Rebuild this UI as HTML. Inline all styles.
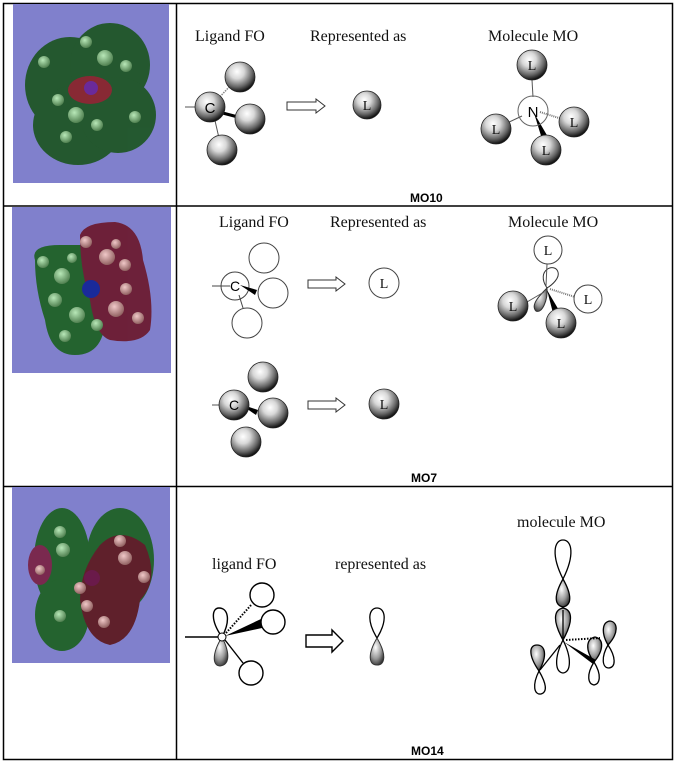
<!DOCTYPE html>
<html><head><meta charset="utf-8"><style>
html,body{margin:0;padding:0;background:#fff;}
svg{display:block;}
.t{font-family:"Liberation Serif",serif;font-size:16px;fill:#111;}
.L{font-family:"Liberation Serif",serif;font-size:14px;fill:#111;text-anchor:middle;}
.m{font-family:"Liberation Sans",sans-serif;font-size:12px;font-weight:bold;fill:#000;}
</style></head><body>
<svg width="677" height="764" viewBox="0 0 677 764" xmlns="http://www.w3.org/2000/svg">
<defs>
<radialGradient id="sp" cx="0.4" cy="0.32" r="0.68">
<stop offset="0" stop-color="#ffffff"/><stop offset="0.35" stop-color="#d8d8d8"/><stop offset="0.75" stop-color="#666"/><stop offset="1" stop-color="#111"/>
</radialGradient>
<radialGradient id="lb" cx="0.4" cy="0.35" r="0.7">
<stop offset="0" stop-color="#fff"/><stop offset="0.6" stop-color="#999"/><stop offset="1" stop-color="#333"/>
</radialGradient>
<radialGradient id="gb" cx="0.4" cy="0.35" r="0.7">
<stop offset="0" stop-color="#b8e8b8"/><stop offset="1" stop-color="#4a7a4a"/>
</radialGradient>
<radialGradient id="rb" cx="0.4" cy="0.35" r="0.7">
<stop offset="0" stop-color="#f0c8c8"/><stop offset="1" stop-color="#8a5a5a"/>
</radialGradient>
</defs>
<rect x="0" y="0" width="677" height="764" fill="#fff"/>
<g stroke="#000" stroke-width="1.5" fill="none">
<rect x="3.5" y="3.5" width="669" height="756"/>
<line x1="176.5" y1="3" x2="176.5" y2="760"/>
<line x1="3" y1="206" x2="673" y2="206"/>
<line x1="3" y1="486.5" x2="673" y2="486.5"/>
</g>

<rect x="13" y="4" width="156" height="179" fill="#8080cc"/>
<g opacity="0.85">
<ellipse cx="70" cy="85" rx="45" ry="48" fill="#145214"/>
<ellipse cx="110" cy="65" rx="40" ry="42" fill="#145214"/>
<ellipse cx="78" cy="125" rx="45" ry="40" fill="#145214"/>
<ellipse cx="118" cy="115" rx="38" ry="38" fill="#145214"/>
<ellipse cx="90" cy="90" rx="22" ry="14" fill="#8a1a1a"/>
</g>
<circle cx="91" cy="88" r="7" fill="#6a2a9a"/>
<g fill="url(#gb)"><circle cx="86" cy="42" r="6"/><circle cx="105" cy="58" r="8"/><circle cx="44" cy="62" r="6"/><circle cx="126" cy="66" r="6"/><circle cx="58" cy="100" r="6"/><circle cx="76" cy="115" r="8"/><circle cx="97" cy="125" r="6"/><circle cx="66" cy="137" r="6"/><circle cx="135" cy="117" r="6"/></g>

<rect x="12" y="207" width="159" height="166" fill="#8080cc"/>
<g opacity="0.85">
<path d="M35 260 Q30 245 60 245 L80 245 Q100 260 105 300 Q110 355 75 355 Q50 355 45 320 Q35 290 35 260Z" fill="#145f14"/>
<path d="M80 235 Q85 222 115 222 Q140 225 143 260 Q155 300 150 330 Q140 345 110 340 Q95 335 90 300 Q80 270 80 235Z" fill="#6a1020"/>
</g>
<circle cx="91" cy="289" r="9" fill="#1a2a9a"/>
<g fill="url(#gb)"><circle cx="43" cy="262" r="6"/><circle cx="62" cy="276" r="8"/><circle cx="55" cy="300" r="7"/><circle cx="77" cy="315" r="8"/><circle cx="97" cy="325" r="6"/><circle cx="65" cy="336" r="6"/><circle cx="72" cy="258" r="5"/></g>
<g fill="url(#rb)"><circle cx="86" cy="242" r="6"/><circle cx="107" cy="257" r="8"/><circle cx="125" cy="265" r="6"/><circle cx="116" cy="244" r="5"/><circle cx="126" cy="289" r="6"/><circle cx="116" cy="309" r="8"/><circle cx="138" cy="318" r="6"/></g>

<rect x="12" y="487" width="158" height="176" fill="#8080cc"/>
<g opacity="0.85">
<ellipse cx="62" cy="560" rx="28" ry="52" fill="#145f14"/>
<ellipse cx="62" cy="615" rx="27" ry="36" fill="#145f14"/>
<ellipse cx="120" cy="560" rx="34" ry="52" fill="#145f14"/>
<ellipse cx="40" cy="565" rx="12" ry="20" fill="#7a1a3a"/>
<path d="M100 545 Q120 525 145 545 Q160 580 140 600 Q135 640 110 645 Q85 640 80 600 Q80 570 100 545Z" fill="#5a1010"/>
</g>
<circle cx="92" cy="578" r="8" fill="#6a1a4a"/>
<g fill="url(#gb)"><circle cx="60" cy="532" r="6"/><circle cx="63" cy="550" r="7"/><circle cx="60" cy="616" r="6"/></g>
<g fill="url(#rb)"><circle cx="120" cy="541" r="6"/><circle cx="125" cy="558" r="7"/><circle cx="144" cy="577" r="6"/><circle cx="80" cy="588" r="6"/><circle cx="87" cy="606" r="6"/><circle cx="104" cy="622" r="6"/><circle cx="40" cy="570" r="5"/></g>

<!-- ROW 1 -->
<text class="t" x="195" y="41">Ligand FO</text>
<text class="t" x="310" y="41">Represented as</text>
<text class="t" x="488" y="41">Molecule MO</text>
<line x1="185" y1="107" x2="205" y2="107" stroke="#555" stroke-width="1"/>
<line x1="213" y1="104" x2="232" y2="84" stroke="#888" stroke-width="1.5" stroke-dasharray="1.5,1"/>
<line x1="215" y1="111" x2="238" y2="117" stroke="#000" stroke-width="3"/>
<line x1="213" y1="112" x2="219" y2="138" stroke="#555" stroke-width="1"/>
<g stroke="#222" stroke-width="0.8">
<circle cx="240" cy="77" r="15" fill="url(#sp)"/>
<circle cx="250" cy="119" r="15" fill="url(#sp)"/>
<circle cx="222" cy="150" r="15" fill="url(#sp)"/>
<circle cx="210" cy="107" r="15" fill="url(#sp)"/>
</g>
<text x="210" y="113" font-family="Liberation Sans,sans-serif" font-size="15" text-anchor="middle">C</text>
<path d="M287 102 H316 V99 L325 106 L316 113 V110 H287Z" fill="#fff" stroke="#333" stroke-width="1"/>
<circle cx="367" cy="105" r="14" fill="url(#sp)" stroke="#222" stroke-width="0.8"/><text class="L" x="367" y="110">L</text>
<line x1="532" y1="80" x2="533" y2="97" stroke="#555"/>
<line x1="507" y1="123" x2="522" y2="116" stroke="#555"/>
<line x1="540" y1="112" x2="562" y2="119" stroke="#777" stroke-width="2" stroke-dasharray="1,1"/>
<path d="M534 113 L548 137 L542 139Z" fill="#000"/>
<circle cx="533" cy="111" r="15" fill="none" stroke="#666"/>
<text x="533" y="117" font-family="Liberation Sans,sans-serif" font-size="15" text-anchor="middle">N</text>
<g stroke="#222" stroke-width="0.8">
<circle cx="532" cy="65" r="15" fill="url(#sp)"/>
<circle cx="496" cy="129" r="15" fill="url(#sp)"/>
<circle cx="574" cy="122" r="15" fill="url(#sp)"/>
<circle cx="546" cy="150" r="15" fill="url(#sp)"/>
</g>
<text class="L" x="532" y="70">L</text><text class="L" x="496" y="134">L</text><text class="L" x="574" y="127">L</text><text class="L" x="546" y="155">L</text>
<text class="m" x="410" y="202">MO10</text>

<!-- ROW 2 -->
<text class="t" x="219" y="227">Ligand FO</text>
<text class="t" x="330" y="227">Represented as</text>
<text class="t" x="508" y="227">Molecule MO</text>
<g fill="none" stroke="#444" stroke-width="1">
<line x1="212" y1="286" x2="230" y2="286"/>
<circle cx="264" cy="258" r="15"/><circle cx="273" cy="293" r="15"/><circle cx="247" cy="323" r="15"/><circle cx="235" cy="286" r="14"/>
<line x1="239" y1="295" x2="243" y2="308"/>
<circle cx="384" cy="283" r="15"/>
</g>
<path d="M240 285 L257 290 L255 295Z" fill="#000"/>
<text x="235" y="291" font-family="Liberation Sans,sans-serif" font-size="14" text-anchor="middle">C</text>
<text class="L" x="384" y="288">L</text>
<path d="M308 280 H336 V277 L345 284 L336 291 V288 H308Z" fill="#fff" stroke="#333"/>
<path d="M547 288 C535 270 555 262 558 272 C560 278 552 285 547 288Z" fill="none" stroke="#333"/>
<path d="M547 288 C540 295 530 305 536 311 C542 314 548 300 547 288Z" fill="url(#lb)" stroke="#333"/>
<line x1="547" y1="264" x2="546" y2="286" stroke="#555"/>
<line x1="527" y1="302" x2="544" y2="292" stroke="#555"/>
<line x1="550" y1="289" x2="575" y2="297" stroke="#777" stroke-width="2" stroke-dasharray="1,1"/>
<path d="M547 290 L560 312 L553 313Z" fill="#000"/>
<circle cx="548" cy="250" r="14" fill="#fff" stroke="#444"/><text class="L" x="548" y="255">L</text>
<circle cx="588" cy="299" r="14" fill="#fff" stroke="#444"/><text class="L" x="588" y="304">L</text>
<circle cx="513" cy="306" r="15" fill="url(#sp)" stroke="#222" stroke-width="0.8"/><text class="L" x="513" y="311">L</text>
<circle cx="561" cy="323" r="15" fill="url(#sp)" stroke="#222" stroke-width="0.8"/><text class="L" x="561" y="328">L</text>
<line x1="212" y1="405" x2="228" y2="405" stroke="#555"/>
<path d="M240 404 L258 410 L256 415Z" fill="#000"/>
<g stroke="#222" stroke-width="0.8">
<circle cx="263" cy="377" r="15" fill="url(#sp)"/>
<circle cx="273" cy="413" r="15" fill="url(#sp)"/>
<circle cx="246" cy="442" r="15" fill="url(#sp)"/>
<circle cx="234" cy="405" r="15" fill="url(#sp)"/>
</g>
<text x="234" y="410" font-family="Liberation Sans,sans-serif" font-size="14" text-anchor="middle">C</text>
<path d="M308 401 H336 V398 L345 405 L336 412 V409 H308Z" fill="#fff" stroke="#333"/>
<circle cx="384" cy="404" r="15" fill="url(#sp)" stroke="#222" stroke-width="0.8"/><text class="L" x="384" y="409">L</text>
<text class="m" x="411" y="482">MO7</text>

<!-- ROW 3 -->
<text class="t" x="212" y="569">ligand FO</text>
<text class="t" x="335" y="569">represented as</text>
<text class="t" x="517" y="527">molecule MO</text>
<g fill="none" stroke="#000" stroke-width="1.4">
<line x1="185" y1="637" x2="219" y2="637"/>
<circle cx="262" cy="595" r="12"/><circle cx="273" cy="622" r="12"/><circle cx="251" cy="673" r="12"/>
<path d="M222 637 C210 620 212 608 219 608 C228 608 231 620 222 637Z"/>
<line x1="225" y1="640" x2="243" y2="663"/>
<line x1="226" y1="633" x2="252" y2="604" stroke-dasharray="1.5,1.5" stroke-width="2"/>
</g>
<path d="M225 636 L261 619 L262 628Z" fill="#000"/>
<path d="M222 637 C211 655 213 666 220 666 C229 665 231 655 222 637Z" fill="url(#lb)" stroke="#333"/>
<circle cx="222" cy="637" r="4" fill="#fff" stroke="#000"/>
<path d="M306 635 H332 V630 L343 641 L332 652 V647 H306Z" fill="#fff" stroke="#000" stroke-width="1.4"/>
<path d="M377 638 C366 620 369 608 377 608 C385 608 388 620 377 638Z" fill="none" stroke="#000" stroke-width="1.3"/>
<path d="M377 638 C367 655 369 665 377 665 C385 665 387 655 377 638Z" fill="url(#lb)" stroke="#333"/>
<g stroke="#000" stroke-width="1.3">
<path d="M563 579 C551 555 554 540 563 540 C572 540 575 555 563 579Z" fill="none"/>
<path d="M563 579 C554 595 554 605 563 607 C572 605 572 595 563 579Z" fill="url(#lb)"/>
<path d="M563 640 C553 622 553 610 563 608 C573 610 573 622 563 640Z" fill="url(#lb)"/>
<line x1="563" y1="610" x2="563" y2="638"/>
<path d="M563 640 C554 658 555 672 563 673 C571 672 572 658 563 640Z" fill="none"/>
<path d="M539 671 C528 655 529 645 537 645 C545 645 548 655 539 671Z" fill="url(#lb)"/>
<path d="M539 671 C532 685 534 695 541 694 C548 692 546 683 539 671Z" fill="none"/>
<line x1="540" y1="670" x2="560" y2="645"/>
<path d="M594 662 C585 650 586 639 595 637 C604 639 604 650 594 662Z" fill="url(#lb)"/>
<path d="M594 662 C586 675 588 684 594 685 C600 684 602 675 594 662Z" fill="none"/>
<path d="M608 645 C601 633 602 622 610 621 C618 622 619 633 608 645Z" fill="url(#lb)"/>
<path d="M608 645 C601 657 602 668 609 668 C616 667 616 657 608 645Z" fill="none"/>
<line x1="566" y1="640" x2="600" y2="638" stroke-dasharray="1.5,1.5" stroke-width="2"/>
</g>
<path d="M564 642 L596 660 L593 664Z" fill="#000"/>
<text class="m" x="411" y="755">MO14</text>
</svg>
</body></html>
